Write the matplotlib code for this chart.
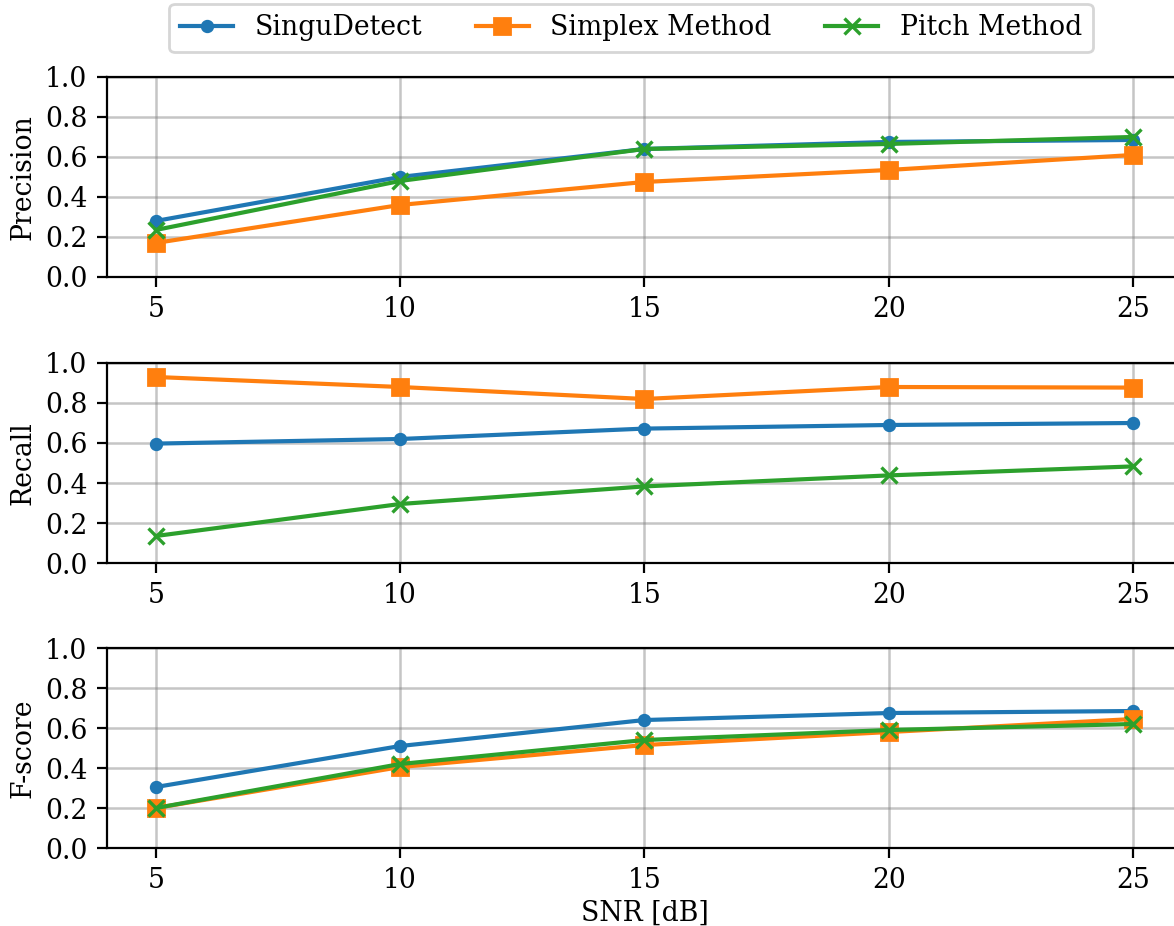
import numpy as np
import matplotlib
matplotlib.use("Agg")
import matplotlib.pyplot as plt

plt.rcParams['font.family'] = 'DejaVu Serif'
plt.rcParams['font.size'] = 9.6

# SNR levels
snr = [5, 10, 15, 20, 25]
methods = ["SinguDetect", "Simplex Method", "Pitch Method"]

precision_singu = [0.28, 0.50, 0.64, 0.675, 0.685]
precision_simplex = [0.17, 0.36, 0.475, 0.535, 0.61]
precision_pitch = [0.235, 0.48, 0.64, 0.665, 0.70]

recall_singu = [0.597, 0.62, 0.672, 0.69, 0.70]
recall_simplex = [0.93, 0.88, 0.82, 0.88, 0.877]
recall_pitch = [0.135, 0.295, 0.383, 0.438, 0.483]

fscore_singu = [0.305, 0.51, 0.64, 0.675, 0.685]
fscore_simplex = [0.20, 0.405, 0.515, 0.58, 0.645]
fscore_pitch = [0.20, 0.42, 0.54, 0.59, 0.62]

panels = [
    ("Precision", [precision_singu, precision_simplex, precision_pitch]),
    ("Recall", [recall_singu, recall_simplex, recall_pitch]),
    ("F-score", [fscore_singu, fscore_simplex, fscore_pitch]),
]
styles = [
    dict(color="#1f77b4", marker="o", markersize=3.8),
    dict(color="#ff7f0e", marker="s", markersize=6),
    dict(color="#2ca02c", marker="x", markersize=6, markeredgewidth=1.2),
]

fig = plt.figure(figsize=(5.87, 4.63), dpi=200)
bottoms = [0.7009, 0.392, 0.0842]
axes = [fig.add_axes([0.0911, b, 0.9157, 0.216]) for b in bottoms]

for ax, (label, series) in zip(axes, panels):
    for name, vals, st in zip(methods, series, styles):
        ax.plot(snr, vals, label=name, linewidth=1.5, **st)
    ax.set_ylim(0, 1)
    ax.set_yticks(np.arange(0, 1.01, 0.2))
    ax.set_xlim(4, 26)
    ax.set_xticks(snr)
    ax.set_ylabel(label, labelpad=3)
    ax.grid(True, color="gray", alpha=0.45, linewidth=0.9)

axes[-1].set_xlabel("SNR [dB]", labelpad=2)

handles, labels = axes[0].get_legend_handles_labels()
fig.legend(handles, labels, loc="upper center", bbox_to_anchor=(0.5375, 1.0105), ncol=3)

fig.savefig("out.png", dpi=200)
